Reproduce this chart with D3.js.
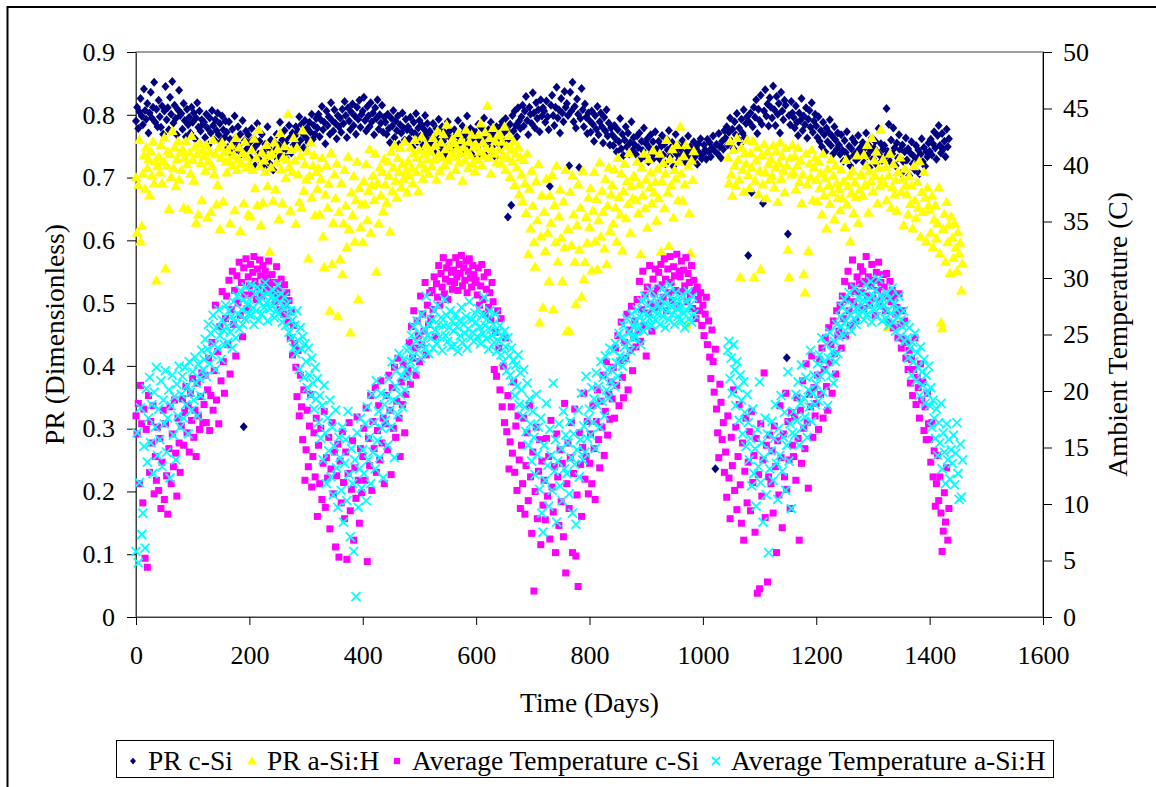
<!DOCTYPE html>
<html>
<head>
<script src="https://d3js.org/d3.v7.min.js"></script>
<style>
  body { margin: 0; background: #fff; }
  svg text { font-family: 'Liberation Serif', 'Times New Roman', serif; fill: #000; }
</style>
</head>
<body>
<div id="chart"></div>
<script>
// one reading every 2 days
// PR values are in thousandths, temperatures in tenths of a degree
var dayStep = 2;
var _ = null;

var prCSi = [
  790,812,778,805,826,798,784,841,807,793,818,771,803,836,795,812,852,788,809,781,
  823,797,780,814,769,806,845,792,811,776,828,801,853,787,815,794,768,808,839,799,
  802,777,818,791,765,809,784,796,771,812,788,803,762,795,819,780,806,774,792,785,
  788,764,801,779,752,795,771,807,783,760,792,775,803,768,786,757,798,776,764,790,
  772,748,789,761,739,777,756,798,763,745,781,752,769,738,791,303,759,774,746,768,
  755,731,778,744,762,719,751,786,737,758,726,769,742,716,753,733,781,747,722,760,
  738,712,756,744,769,729,751,788,736,760,747,775,731,758,742,783,764,739,771,752,
  766,781,752,774,797,759,785,770,748,791,763,779,756,788,772,801,761,783,769,794,
  779,801,765,792,813,776,788,754,806,783,797,769,819,791,774,808,786,762,799,781,
  795,772,809,786,821,799,764,811,790,776,804,817,783,798,769,812,793,823,780,801,
  806,828,791,774,813,798,781,819,789,803,768,811,794,824,777,800,787,815,772,796,
  788,769,801,778,756,795,782,807,764,790,775,798,753,784,771,803,779,760,793,776,
  781,762,796,773,748,788,770,802,757,779,791,766,784,751,777,799,768,786,759,774,
  770,752,786,761,738,778,755,793,764,747,781,758,772,736,767,789,750,775,762,744,
  758,776,747,769,791,755,763,739,782,771,750,767,798,757,744,778,761,735,773,766,
  772,748,785,760,737,779,764,795,753,768,742,776,759,788,749,771,763,733,781,756,
  767,780,752,789,771,758,794,776,637,762,785,656,799,774,806,783,765,811,790,778,
  797,815,782,806,829,791,768,812,801,786,835,803,779,819,794,808,773,824,798,811,
  806,788,822,797,776,686,815,831,799,783,812,844,795,808,771,826,803,789,837,812,
  818,799,719,836,806,852,789,813,779,825,801,716,794,842,808,781,817,796,770,803,
  791,772,806,785,758,799,777,813,768,789,803,781,755,796,774,808,766,787,752,779,
  768,751,783,762,741,776,757,794,746,769,735,760,781,749,771,738,756,789,743,764,
  752,737,766,748,771,729,758,743,779,734,754,762,725,747,768,739,757,731,773,745,
  741,758,729,749,767,736,753,722,761,744,775,733,748,756,718,742,769,737,751,728,
  746,731,759,738,752,724,741,766,735,749,728,744,757,733,747,721,754,739,762,730,
  737,752,744,729,761,741,756,733,747,766,743,236,753,738,770,749,731,758,745,775,
  763,781,752,772,795,758,777,746,789,768,802,761,779,754,793,771,808,764,786,797,
  576,788,803,676,781,812,796,824,770,809,791,831,785,659,806,840,798,817,782,827,
  812,795,846,808,783,829,801,818,771,836,806,792,823,815,413,610,799,784,821,803,
  796,779,814,788,767,803,791,826,775,798,784,811,763,793,807,780,819,772,790,801,
  782,764,797,758,775,749,788,768,741,779,757,772,792,751,766,738,781,760,745,771,
  752,737,768,744,726,759,740,773,731,750,719,746,762,735,756,728,741,767,733,748,
  739,756,724,748,771,735,752,716,743,763,730,747,758,721,740,778,736,754,727,745,
  751,733,810,742,785,726,760,738,779,747,719,755,731,768,744,707,752,725,741,763,
  728,746,703,739,757,722,734,712,751,730,744,706,737,762,725,748,718,741,733,755,
  742,761,736,754,773,747,729,767,783,751,739,770,745,758,733,777,749,762
];

var prASiH = [
  700,612,688,760,598,623,706,735,682,748,715,729,672,741,703,757,690,726,536,718,
  733,708,752,691,726,764,555,719,742,650,737,701,774,715,748,686,729,758,697,740,
  712,745,652,731,758,721,649,740,706,766,728,695,749,628,737,641,755,723,664,744,
  734,711,752,636,726,741,645,718,760,705,737,657,688,748,618,731,756,662,740,725,
  708,743,726,627,751,719,736,648,763,712,729,748,615,722,739,659,757,716,733,641,
  721,638,744,712,762,683,731,656,776,718,624,740,660,727,709,752,686,735,582,716,
  738,663,756,681,724,745,634,771,713,659,732,750,699,728,801,717,647,744,709,763,
  727,626,748,705,661,734,652,775,679,721,697,742,571,703,756,668,719,736,640,709,
  682,715,641,698,731,606,557,673,719,652,690,488,739,562,628,705,667,722,479,645,
  570,691,546,627,712,655,589,733,618,453,676,640,702,598,664,725,506,683,621,657,
  597,694,658,721,632,679,745,612,688,703,664,738,550,691,627,716,672,709,646,730,
  689,660,725,703,614,741,678,716,752,695,668,731,709,747,684,722,698,757,711,676,
  726,703,748,715,691,739,760,709,731,678,744,721,765,698,737,714,752,729,706,743,
  741,718,763,729,752,697,774,737,711,756,732,769,720,745,784,727,750,703,738,761,
  733,755,712,746,771,724,739,760,695,748,727,776,741,715,757,735,768,722,749,710,
  752,728,768,741,786,719,756,735,772,747,814,731,763,706,745,779,738,758,724,767,
  744,769,722,757,736,781,712,750,731,766,701,745,725,758,688,738,716,749,673,732,
  705,662,728,691,643,738,578,682,619,711,655,597,558,694,632,721,469,606,672,493,
  645,583,698,612,535,671,628,704,490,656,597,719,566,638,681,604,535,662,589,712,
  455,618,456,677,592,703,641,566,498,624,689,585,652,510,711,538,565,637,596,668,
  621,683,552,647,709,598,666,554,632,724,606,679,645,587,698,562,655,716,615,673,
  688,627,713,652,598,731,669,641,706,584,678,722,635,694,658,739,612,686,667,703,
  701,664,725,643,689,578,716,672,738,651,697,620,729,684,708,659,743,676,693,631,
  714,667,738,582,694,723,651,706,760,676,591,729,688,745,636,712,698,752,664,725,
  781,706,663,734,689,752,466,718,643,580,727,696,742,_,_,_,_,_,_,_,
  _,_,_,_,_,_,_,_,_,_,_,_,_,_,_,_,_,_,_,_,
  _,_,732,691,758,705,671,744,719,687,763,728,697,541,748,712,677,739,722,760,
  704,683,739,716,758,541,695,727,748,673,711,554,736,689,753,708,667,741,721,697,
  729,702,751,684,716,742,661,723,756,698,734,711,676,747,719,585,541,731,705,752,
  708,734,681,719,747,693,727,659,705,546,517,738,689,583,722,701,744,664,716,731,
  696,662,725,683,707,641,738,672,699,619,714,688,658,729,676,703,634,719,691,667,
  682,648,713,667,694,621,728,657,686,702,598,675,711,643,692,669,735,628,680,704,
  705,671,736,688,719,752,644,711,694,763,678,727,702,741,659,715,686,776,698,729,
  691,717,664,461,703,738,652,685,721,673,696,647,709,466,732,677,698,624,714,688,
  673,641,702,658,687,619,718,664,635,693,652,726,606,677,645,709,668,598,684,655,
  648,612,671,589,633,656,603,627,684,579,469,460,618,642,566,661,597,625,548,638,
  604,572,627,588,551,613,579,596,520,563
];

var tempCSi = [
  178,162,189,118,205,171,101,184,52,166,44,196,128,173,154,187,109,142,121,168,
  112,158,96,137,183,104,171,125,91,149,186,118,162,133,192,145,107,176,154,128,
  169,193,152,181,204,163,187,146,198,174,211,159,183,142,207,178,166,195,216,172,
  188,214,172,201,229,165,196,243,183,218,276,192,235,171,257,209,288,226,198,264,
  284,241,298,215,272,306,259,289,231,302,278,314,267,296,248,309,285,317,273,301,
  293,312,286,305,319,297,281,308,292,316,302,284,311,296,306,289,300,315,294,287,
  303,288,296,279,310,284,291,272,299,283,268,294,276,287,261,280,247,270,232,258,
  242,221,195,236,178,214,186,157,201,121,148,183,133,169,197,115,142,163,124,176,
  89,152,118,167,104,136,182,97,141,123,159,78,131,172,109,146,62,125,153,53,
  138,101,164,119,87,146,51,127,172,94,113,156,68,132,105,177,121,83,149,110,
  142,167,121,185,49,158,134,196,112,173,149,203,128,165,187,139,209,154,176,118,
  171,196,148,214,183,126,203,167,221,159,191,229,176,142,208,188,224,163,197,215,
  218,243,206,257,229,271,238,214,262,249,226,284,241,268,253,296,232,276,259,287,
  264,289,272,301,248,295,283,311,276,304,292,318,286,299,309,281,314,297,305,290,
  307,296,318,301,289,312,304,320,293,309,298,315,287,306,317,300,292,311,303,296,
  298,285,309,276,293,312,281,301,268,290,305,274,287,263,296,279,219,252,213,271,
  238,201,264,186,222,172,247,164,196,131,155,186,145,208,128,169,112,178,139,96,
  152,118,176,91,134,163,103,187,124,74,146,23,111,168,87,129,157,64,138,99,
  121,86,158,107,142,69,174,115,93,133,57,162,124,81,148,102,136,71,189,39,
  118,154,96,141,172,57,127,184,54,108,27,163,135,89,150,198,122,142,173,109,
  136,162,118,187,149,104,173,201,157,132,191,168,214,143,182,226,161,197,175,208,
  193,221,176,238,205,249,187,227,261,212,194,243,229,268,201,254,236,275,218,247,
  262,239,281,253,297,244,272,306,258,285,231,292,269,311,277,253,299,286,308,274,
  291,305,278,312,294,283,317,299,271,308,287,319,296,280,310,302,289,321,276,306,
  301,315,288,307,293,318,279,304,296,285,311,273,298,289,264,292,281,271,287,258,
  276,249,268,283,241,262,230,211,254,226,199,237,184,163,141,206,190,157,172,128,
  146,106,178,123,87,159,134,201,112,168,95,142,188,117,83,154,68,129,176,101,
  137,164,94,182,119,143,75,158,21,126,25,171,107,139,216,88,152,31,124,161,
  118,147,92,169,133,57,156,108,187,141,79,162,124,198,113,173,139,96,181,152,
  142,177,121,194,158,68,183,136,209,167,149,224,172,114,197,186,231,159,203,178,
  189,214,166,228,197,238,176,219,247,204,183,256,225,241,198,262,233,215,271,249,
  253,276,238,284,264,297,249,281,306,271,258,293,316,279,288,262,301,274,295,310,
  287,306,273,297,319,284,301,276,293,312,282,298,267,305,289,314,278,296,283,303,
  292,271,304,284,261,297,279,289,256,283,268,274,247,286,259,238,271,246,262,229,
  243,219,236,207,228,196,219,247,188,212,203,176,224,192,208,165,186,157,198,171,
  157,137,172,124,147,98,118,143,103,124,92,58,76,110,84,132,68,96
];

var tempASiH = [
  58,163,48,119,185,73,92,151,61,202,137,176,212,154,188,127,199,168,221,143,
  184,157,209,133,192,171,218,146,176,201,123,187,214,161,195,139,206,178,222,168,
  197,213,176,221,188,205,162,226,199,183,217,192,230,207,178,224,211,196,236,219,
  228,246,213,237,259,224,251,232,267,241,219,256,238,272,249,228,263,254,241,276,
  257,243,271,252,266,238,279,261,247,284,268,255,289,272,259,281,264,292,276,268,
  281,267,294,274,259,286,271,292,263,279,289,268,285,274,296,278,262,287,273,283,
  276,289,265,282,271,294,268,279,286,261,274,283,258,277,266,252,271,247,263,238,
  258,233,271,245,219,256,237,248,212,242,226,203,238,214,196,229,207,184,221,193,
  211,172,196,158,187,139,205,163,118,176,147,192,124,168,108,151,183,132,97,159,
  141,112,168,84,136,157,103,182,126,71,149,118,58,139,18,163,97,131,176,114,
  148,127,171,103,186,139,159,118,197,146,172,131,209,156,182,141,198,167,123,188,
  174,196,152,211,183,168,226,192,141,204,218,179,233,197,213,186,228,201,219,236,
  212,238,226,249,231,257,219,244,262,236,251,229,268,243,255,238,284,249,233,258,
  247,263,238,271,254,242,276,259,248,265,236,258,281,249,267,244,256,271,239,262,
  253,241,268,257,235,262,249,274,243,259,251,266,238,255,279,247,263,252,244,269,
  261,248,273,256,242,267,251,283,258,246,264,237,271,254,249,259,243,268,235,252,
  244,258,232,249,226,253,239,218,247,231,214,238,209,227,196,223,204,232,188,216,
  201,178,219,186,164,207,152,193,171,138,182,159,126,197,144,168,113,176,92,75,
  152,121,189,134,98,166,143,112,207,129,157,84,138,171,116,149,103,182,131,161,
  127,154,109,173,141,92,162,135,82,148,183,124,157,198,139,169,146,213,158,176,
  184,161,203,172,193,149,216,187,204,168,226,191,212,178,231,201,219,194,238,209,
  218,236,204,242,225,213,251,231,247,222,258,239,229,264,243,252,236,268,247,257,
  261,248,272,255,266,241,279,262,253,284,269,257,276,264,289,258,271,282,263,276,
  268,282,259,274,291,266,278,256,286,271,263,294,275,268,281,259,287,273,266,279,
  274,262,285,269,256,279,271,288,264,276,261,283,268,_,_,_,_,_,_,_,
  _,_,_,_,_,_,_,_,_,_,_,_,_,_,_,_,_,_,_,_,
  _,_,236,244,211,229,198,241,219,187,226,203,174,214,192,162,208,181,151,197,
  172,139,158,116,184,127,149,98,166,133,208,119,154,84,141,176,108,162,57,131,
  147,173,121,158,188,136,104,167,143,196,129,159,181,112,152,217,138,171,96,163,
  182,161,197,174,208,152,189,223,168,194,177,212,159,201,186,236,173,198,214,188,
  206,224,191,232,213,247,199,226,218,241,187,229,252,214,235,207,244,226,259,233,
  248,266,257,274,249,281,262,271,256,287,268,253,276,264,291,259,272,283,267,278,
  271,286,263,279,294,268,282,275,297,261,284,272,289,266,278,299,274,285,262,281,
  276,264,287,271,258,282,269,291,261,277,253,272,266,284,248,263,257,271,244,259,
  247,229,256,238,214,243,226,251,209,234,221,196,239,217,205,228,189,214,198,222,
  187,203,168,192,176,158,184,143,172,154,189,131,163,146,118,171,139,157,122,148,
  136,161,117,145,172,127,104,153,106,139
];

var dayTicks = [0,200,400,600,800,1000,1200,1400,1600];
var prTicks = [0,0.1,0.2,0.3,0.4,0.5,0.6,0.7,0.8,0.9];
var prTickLabels = ["0","0.1","0.2","0.3","0.4","0.5","0.6","0.7","0.8","0.9"];
var tempTicks = [0,5,10,15,20,25,30,35,40,45,50];
var seriesNames = ["PR c-Si","PR a-Si:H","Average Temperature c-Si","Average Temperature a-Si:H"];

////////////////////////////////////////////////////////////
//////////////////////// Set-Up ////////////////////////////
////////////////////////////////////////////////////////////
var width = 1156, height = 787;
var plot = {left:136, right:1043, top:52, bottom:617};
var fontSize = 26, titleSize = 27.5;

var x = d3.scaleLinear().domain([0,1600]).range([plot.left, plot.right]);
var yPR = d3.scaleLinear().domain([0,0.9]).range([plot.bottom, plot.top]);
var yTemp = d3.scaleLinear().domain([0,50]).range([plot.bottom, plot.top]);

var svg = d3.select("#chart").append("svg")
    .attr("width", width)
    .attr("height", height);

svg.append("rect").attr("width", width).attr("height", height).attr("fill", "#fff");

//outer frame (runs off the right and bottom edge)
svg.append("rect")
    .attr("x", 7.5).attr("y", 7)
    .attr("width", 1170).attr("height", 820)
    .attr("fill", "none")
    .attr("stroke", "#000")
    .attr("stroke-width", 2);

//plot area border
svg.append("rect")
    .attr("x", plot.left).attr("y", plot.top)
    .attr("width", plot.right - plot.left).attr("height", plot.bottom - plot.top)
    .attr("fill", "none")
    .attr("stroke", "#808080")
    .attr("stroke-width", 1.5);

////////////////////////////////////////////////////////////
//////////////////////// Axes //////////////////////////////
////////////////////////////////////////////////////////////
function styleAxis(g, lineColor) {
  g.attr("font-size", fontSize).attr("font-family", "'Liberation Serif', serif");
  g.select(".domain").attr("stroke", lineColor);
  g.selectAll(".tick line").attr("stroke", "#000");
}

svg.append("g")
    .attr("transform", "translate(0," + plot.bottom + ")")
    .call(d3.axisBottom(x).tickValues(dayTicks).tickSizeInner(8).tickSizeOuter(0).tickPadding(21).tickFormat(d3.format("d")))
    .call(styleAxis, "#404040");

svg.append("g")
    .attr("transform", "translate(" + plot.left + ",0)")
    .call(d3.axisLeft(yPR).tickValues(prTicks).tickSizeInner(9).tickSizeOuter(0).tickPadding(12)
      .tickFormat(function(d, i) { return prTickLabels[i]; }))
    .call(styleAxis, "#404040");

svg.append("g")
    .attr("transform", "translate(" + plot.right + ",0)")
    .call(d3.axisRight(yTemp).tickValues(tempTicks).tickSizeInner(9).tickSizeOuter(0).tickPadding(11).tickFormat(d3.format("d")))
    .call(styleAxis, "#000");

//axis titles
var midY = (plot.top + plot.bottom) / 2;
svg.append("text")
    .attr("x", (plot.left + plot.right) / 2).attr("y", 712)
    .attr("text-anchor", "middle").attr("font-size", titleSize)
    .text("Time (Days)");

svg.append("text")
    .attr("transform", "translate(64," + midY + ")rotate(-90)")
    .attr("text-anchor", "middle").attr("font-size", titleSize)
    .text("PR (Dimensionless)");

svg.append("text")
    .attr("transform", "translate(1127," + midY + ")rotate(-90)")
    .attr("text-anchor", "middle").attr("font-size", titleSize)
    .text("Ambient Temperature (C)");

////////////////////////////////////////////////////////////
//////////////////////// Markers ///////////////////////////
////////////////////////////////////////////////////////////
var markers = [
  {values: prCSi,    div: 1000, y: yPR,   color: "#000080", shape: "diamond"},
  {values: prASiH,   div: 1000, y: yPR,   color: "#FFFF00", shape: "triangle"},
  {values: tempCSi,  div: 10,   y: yTemp, color: "#FF00FF", shape: "square"},
  {values: tempASiH, div: 10,   y: yTemp, color: "#00FFFF", shape: "cross"}
];

function shapePath(shape, s) {
  if (shape == "diamond") return "M0," + (-4.5*s) + "L" + (4*s) + ",0L0," + (4.5*s) + "L" + (-4*s) + ",0Z";
  if (shape == "triangle") return "M0," + (-5.5*s) + "L" + (5.5*s) + "," + (4*s) + "L" + (-5.5*s) + "," + (4*s) + "Z";
  if (shape == "square") return "M" + (-3.5*s) + "," + (-3.5*s) + "h" + (7*s) + "v" + (7*s) + "h" + (-7*s) + "Z";
  return "M" + (-4.5*s) + "," + (-4.5*s) + "L" + (4.5*s) + "," + (4.5*s) + "M" + (4.5*s) + "," + (-4.5*s) + "L" + (-4.5*s) + "," + (4.5*s);
}

function drawMarker(sel, m, s) {
  sel.attr("d", shapePath(m.shape, s));
  if (m.shape == "cross") sel.attr("fill", "none").attr("stroke", m.color).attr("stroke-width", 1.8);
  else sel.attr("fill", m.color);
}

markers.forEach(function(m) {
  var pts = [];
  m.values.forEach(function(v, i) {
    if (v != null) pts.push({day: i * dayStep, value: v / m.div});
  });
  svg.append("g").selectAll("path")
    .data(pts)
    .enter().append("path")
    .attr("transform", function(d) { return "translate(" + x(d.day) + "," + m.y(d.value) + ")"; })
    .call(drawMarker, m, 1);
});

////////////////////////////////////////////////////////////
//////////////////////// Legend ////////////////////////////
////////////////////////////////////////////////////////////
var legend = svg.append("g");
legend.append("rect")
    .attr("x", 116.5).attr("y", 740.5)
    .attr("width", 937).attr("height", 37)
    .attr("fill", "#fff").attr("stroke", "#000").attr("stroke-width", 1);

//marker centres of the four legend entries
var legendX = [133, 252, 397, 716];
markers.forEach(function(m, i) {
  legend.append("path")
    .attr("transform", "translate(" + legendX[i] + ",761)")
    .call(drawMarker, m, m.shape == "diamond" ? 0.75 : 0.9);
  legend.append("text")
    .attr("x", legendX[i] + 15).attr("y", 770)
    .attr("font-size", titleSize)
    .text(seriesNames[i]);
});
</script>
</body>
</html>
